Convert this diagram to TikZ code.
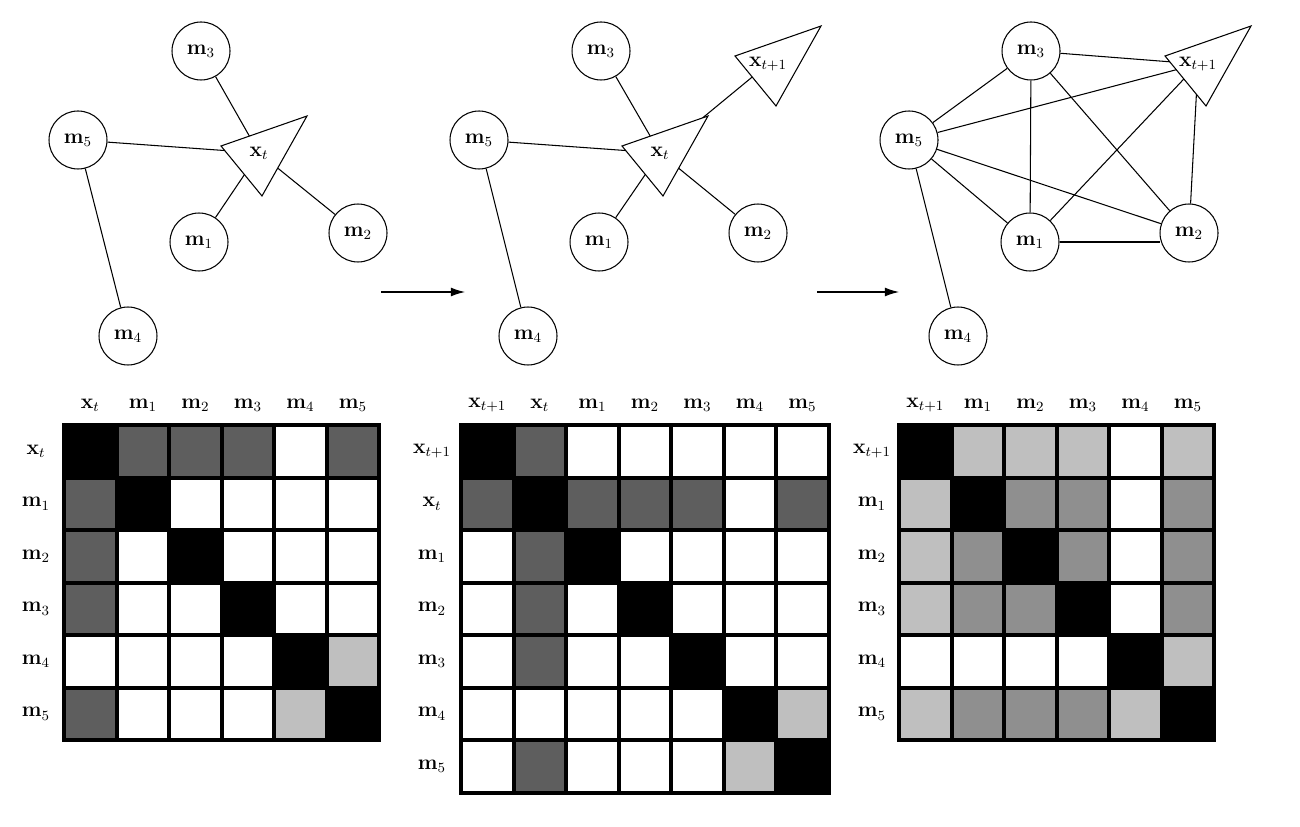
\documentclass[tikz,border=0pt]{standalone}
\usetikzlibrary{arrows.meta,backgrounds}
\newcommand\lblfont{\fontsize{11.5}{13}\selectfont}
\begin{document}
\begin{tikzpicture}[x=0.02cm,y=-0.02cm,
  mem/.style={circle, draw, line width=0.6pt, minimum size=1.16cm, inner sep=0pt, fill=white, font=\lblfont},
  lab/.style={inner sep=0pt, font=\lblfont},
  conn/.style={line width=0.6pt},
  tri/.style={draw, fill=white, line width=0.6pt, line join=miter},
  flow/.style={line width=0.6pt, -{Latex[length=8pt,width=5pt]}},
  cell0/.style={fill=white}, cell1/.style={fill=black!25},
  cell2/.style={fill=black!44}, cell3/.style={fill=black!63},
  cell4/.style={fill=black}]
\useasboundingbox (0,0) rectangle (1300,827);

% ---------- graph 1 ----------
\node[mem] (a3) at (201,51) {$\mathbf{m}_3$};
\node[mem] (a5) at (78,140) {$\mathbf{m}_5$};
\node[mem] (a1) at (199,242) {$\mathbf{m}_1$};
\node[mem] (a2) at (358,233) {$\mathbf{m}_2$};
\node[mem] (a4) at (128,336) {$\mathbf{m}_4$};
\draw[tri, shift={(263,153)}] (-42,-7) -- (44,-37) -- (-1,43) -- cycle;
\node[lab] (axt) at (259,153) {$\mathbf{x}_t$};
\begin{scope}[on background layer]
  \draw[conn] (a3) -- (axt.center);
  \draw[conn] (a5) -- (axt.center);
  \draw[conn] (a1) -- (axt.center);
  \draw[conn] (a2) -- (axt.center);
  \draw[conn] (a5) -- (a4);
\end{scope}

% ---------- graph 2 ----------
\node[mem] (b3) at (601,51) {$\mathbf{m}_3$};
\node[mem] (b5) at (479,140) {$\mathbf{m}_5$};
\node[mem] (b1) at (599,242) {$\mathbf{m}_1$};
\node[mem] (b2) at (758,233) {$\mathbf{m}_2$};
\node[mem] (b4) at (528,336) {$\mathbf{m}_4$};
\draw[tri, shift={(664,153)}] (-42,-7) -- (44,-37) -- (-1,43) -- cycle;
\node[lab] (bxt) at (660,153) {$\mathbf{x}_t$};
\draw[tri, shift={(777,63)}] (-42,-7) -- (44,-37) -- (-1,43) -- cycle;
\node[lab] (bxu) at (768,64) {$\mathbf{x}_{t+1}$};
\begin{scope}[on background layer]
  \draw[conn] (b3) -- (bxt.center);
  \draw[conn] (b5) -- (bxt.center);
  \draw[conn] (b1) -- (bxt.center);
  \draw[conn] (b2) -- (bxt.center);
  \draw[conn] (bxt.center) -- (bxu.center);
  \draw[conn] (b5) -- (b4);
\end{scope}

% ---------- graph 3 ----------
\node[mem] (c3) at (1031,51) {$\mathbf{m}_3$};
\node[mem] (c5) at (909,140) {$\mathbf{m}_5$};
\node[mem] (c1) at (1030,242) {$\mathbf{m}_1$};
\node[mem] (c2) at (1189,233) {$\mathbf{m}_2$};
\node[mem] (c4) at (958,336) {$\mathbf{m}_4$};
\draw[tri, shift={(1207,63)}] (-42,-7) -- (44,-37) -- (-1,43) -- cycle;
\node[lab] (cxu) at (1198,64) {$\mathbf{x}_{t+1}$};
\begin{scope}[on background layer]
  \draw[conn] (c3) -- (cxu.center);
  \draw[conn] (c5) -- (cxu.center);
  \draw[conn] (c1) -- (cxu.center);
  \draw[conn] (c2) -- (cxu.center);
  \draw[conn] (c5) -- (c3);
  \draw[conn] (c3) -- (c1);
  \draw[conn] (c3) -- (c2);
  \draw[conn] (c5) -- (c1);
  \draw[conn] (c5) -- (c2);
  \draw[conn] (c1.east) -- (c2.west |- c1.east);
  \draw[conn] (c5) -- (c4);
\end{scope}

% ---------- arrows ----------
\coordinate (f1s) at (381,292);
\coordinate (f1e) at (465,292);
\coordinate (f2s) at (817,292);
\coordinate (f2e) at (899,292);
\draw[flow] (f1s) -- (f1e);
\draw[flow] (f2s) -- (f2e);

% ---------- matrix 1 ----------
\begin{scope}[shift={(62,423)}]
  \fill (0,0) rectangle (319.2,319.2);
  \foreach \row [count=\r from 0] in {{4,3,3,3,0,3},{3,4,0,0,0,0},{3,0,4,0,0,0},{3,0,0,4,0,0},{0,0,0,0,4,1},{3,0,0,0,1,4}}{
    \foreach \v [count=\c from 0] in \row {
      \fill[cell\v] ({4.2+\c*52.5},{4.2+\r*52.5}) rectangle ++(48.3,48.3);
    }
  }
\end{scope}
\foreach \t/\n [count=\i from 0] in {{\mathbf{x}_t}/xt,{\mathbf{m}_1}/m1,{\mathbf{m}_2}/m2,{\mathbf{m}_3}/m3,{\mathbf{m}_4}/m4,{\mathbf{m}_5}/m5}{
  \node[lab] (P-col-\n) at ({62+28.35+\i*52.5},405) {$\t$};
  \node[lab] (P-row-\n) at (36,{423+28.35+\i*52.5}) {$\t$};
}

% ---------- matrix 2 ----------
\begin{scope}[shift={(459,423)}]
  \fill (0,0) rectangle (371.7,371.7);
  \foreach \row [count=\r from 0] in {{4,3,0,0,0,0,0},{3,4,3,3,3,0,3},{0,3,4,0,0,0,0},{0,3,0,4,0,0,0},{0,3,0,0,4,0,0},{0,0,0,0,0,4,1},{0,3,0,0,0,1,4}}{
    \foreach \v [count=\c from 0] in \row {
      \fill[cell\v] ({4.2+\c*52.5},{4.2+\r*52.5}) rectangle ++(48.3,48.3);
    }
  }
\end{scope}
\foreach \t/\n [count=\i from 0] in {{\mathbf{x}_{t+1}}/xu,{\mathbf{x}_t}/xt,{\mathbf{m}_1}/m1,{\mathbf{m}_2}/m2,{\mathbf{m}_3}/m3,{\mathbf{m}_4}/m4,{\mathbf{m}_5}/m5}{
  \node[lab] (Q-col-\n) at ({459+28.35+\i*52.5},405) {$\t$};
  \node[lab] (Q-row-\n) at (432,{423+28.35+\i*52.5}) {$\t$};
}

% ---------- matrix 3 ----------
\begin{scope}[shift={(897,423)}]
  \fill (0,0) rectangle (319.2,319.2);
  \foreach \row [count=\r from 0] in {{4,1,1,1,0,1},{1,4,2,2,0,2},{1,2,4,2,0,2},{1,2,2,4,0,2},{0,0,0,0,4,1},{1,2,2,2,1,4}}{
    \foreach \v [count=\c from 0] in \row {
      \fill[cell\v] ({4.2+\c*52.5},{4.2+\r*52.5}) rectangle ++(48.3,48.3);
    }
  }
\end{scope}
\foreach \t/\n [count=\i from 0] in {{\mathbf{x}_{t+1}}/xu,{\mathbf{m}_1}/m1,{\mathbf{m}_2}/m2,{\mathbf{m}_3}/m3,{\mathbf{m}_4}/m4,{\mathbf{m}_5}/m5}{
  \node[lab] (R-col-\n) at ({897+28.35+\i*52.5},405) {$\t$};
  \node[lab] (R-row-\n) at (872,{423+28.35+\i*52.5}) {$\t$};
}
\end{tikzpicture}
\end{document}
